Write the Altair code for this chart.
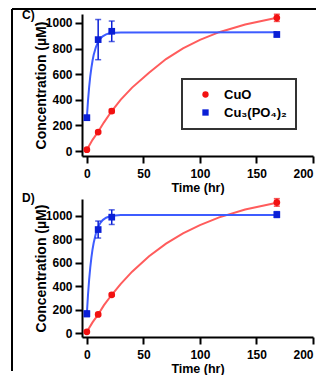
import altair as alt
import pandas as pd

series_names = ["CuO", "Cu₃(PO₄)₂"]
t_pts = [0, 10, 22, 168]

# Panel C measured points
c_cuo = [10, 148, 312, 1040]
c_cuo_err = [8, 10, 14, 28]
c_cup = [260, 870, 935, 910]
c_cup_err = [18, 157, 80, 18]

# Panel D measured points
d_cuo = [14, 161, 328, 1111]
d_cuo_err = [8, 10, 12, 32]
d_cup = [167, 881, 986, 1008]
d_cup_err = [25, 72, 62, 25]

# fitted curves
fit_t_red = [0, 5, 10, 15, 22, 30, 40, 55, 70, 85, 100, 117, 140, 168]
c_cuo_fit = [10, 87, 150, 222, 312, 401, 495, 612, 718, 802, 868, 928, 988, 1040]
d_cuo_fit = [14, 94, 161, 238, 328, 421, 524, 654, 762, 849, 919, 984, 1051, 1109]

fit_t_blue = [0, 1, 2, 3, 4, 5, 6, 8, 10, 12, 14, 17, 20, 25, 30, 168]
c_cup_fit = [260, 392, 497, 582, 650, 705, 749, 812, 853, 879, 896, 911, 919, 924, 926, 927]
d_cup_fit = [167, 326, 454, 558, 643, 712, 767, 849, 903, 938, 961, 981, 992, 1001, 1004, 1005]

x_ticks = [0, 50, 100, 150, 200]
y_ticks = [0, 200, 400, 600, 800, 1000]

RED = "#f21111"
RED_LINE = "#ff5c5c"
BLUE = "#0a1fd6"
BLUE_LINE = "#3d5cff"
FONT = "Liberation Sans"


def panel(label, cuo, cuo_err, cup, cup_err, cuo_fit, cup_fit, ydom, height, legend, frame):
    pts = pd.DataFrame({
        "time": t_pts + t_pts,
        "conc": cuo + cup,
        "lo": [v - e for v, e in zip(cuo, cuo_err)] + [v - e for v, e in zip(cup, cup_err)],
        "hi": [v + e for v, e in zip(cuo, cuo_err)] + [v + e for v, e in zip(cup, cup_err)],
        "series": [series_names[0]] * 4 + [series_names[1]] * 4,
    })
    red_fit = pd.DataFrame({"time": fit_t_red, "conc": cuo_fit})
    blue_fit = pd.DataFrame({"time": fit_t_blue, "conc": cup_fit})

    xs = alt.Scale(domain=[-4.3, 200], nice=False, zero=False)
    ys = alt.Scale(domain=ydom, nice=False, zero=False)
    xax = alt.Axis(values=x_ticks, title="Time (hr)", format="d", labelOverlap=False)
    yax = alt.Axis(values=y_ticks, title="Concentration (µM)", format="d",
                   titleFontSize=14, titlePadding=-3, labelOverlap=False)

    def X(f):
        return alt.X(f, type="quantitative", scale=xs, axis=xax)

    def Y(f):
        return alt.Y(f, type="quantitative", scale=ys, axis=yax)

    base = alt.Chart(pts)
    line_r = alt.Chart(red_fit).mark_line(color=RED_LINE, strokeWidth=2).encode(x=X("time"), y=Y("conc"))
    line_b = alt.Chart(blue_fit).mark_line(color=BLUE_LINE, strokeWidth=2).encode(x=X("time"), y=Y("conc"))

    layers = [line_r, line_b]
    for name, col in zip(series_names, [RED, BLUE]):
        sub = base.transform_filter(alt.datum.series == name)
        layers.append(sub.mark_rule(color=col, strokeWidth=1.5).encode(
            x=X("time"), y=Y("lo"), y2="hi:Q"))
        layers.append(sub.mark_tick(color=col, orient="horizontal", size=6, thickness=1.5).encode(
            x=X("time"), y=Y("lo")))
        layers.append(sub.mark_tick(color=col, orient="horizontal", size=6, thickness=1.5).encode(
            x=X("time"), y=Y("hi")))

    if legend:
        leg = alt.Legend(title=None, orient="none", legendX=100, legendY=65,
                         strokeColor="#333333", padding=9, symbolOffset=8,
                         labelOffset=12, labelFontSize=13, labelFontWeight="bold",
                         labelFont=FONT, labelColor="black", rowPadding=4,
                         symbolSize=40, symbolStrokeWidth=0)
    else:
        leg = None
    pts_layer = base.mark_point(filled=True, size=45, opacity=1).encode(
        x=X("time"), y=Y("conc"),
        color=alt.Color("series:N", scale=alt.Scale(domain=series_names, range=[RED, BLUE]), legend=leg),
        shape=alt.Shape("series:N", scale=alt.Scale(domain=series_names, range=["circle", "square"]), legend=leg),
    )
    layers.append(pts_layer)

    lab = alt.Chart(pd.DataFrame({"k": [0]})).mark_text(
        align="left", baseline="middle", fontWeight="bold", fontSize=12, font=FONT, color="black"
    ).encode(x=alt.value(-60), y=alt.value(1 if frame else -1), text=alt.value(label))
    layers.append(lab)

    if frame:
        one = pd.DataFrame({"k": [0]})
        layers.append(alt.Chart(one).mark_rule(color="black", strokeWidth=2).encode(
            x=alt.value(-70), y=alt.value(-5), y2=alt.value(357)))
        layers.append(alt.Chart(one).mark_rule(color="black", strokeWidth=2).encode(
            x=alt.value(-70), x2=alt.value(241), y=alt.value(-5)))

    return alt.layer(*layers).properties(width=231, height=height)


top = panel("C)", c_cuo, c_cuo_err, c_cup, c_cup_err, c_cuo_fit, c_cup_fit, [-39, 1070], 142, True, True)
bot = panel("D)", d_cuo, d_cuo_err, d_cup, d_cup_err, d_cuo_fit, d_cup_fit, [-30, 1140], 138, False, False)

chart = alt.vconcat(top, bot, spacing=43, bounds="flush").resolve_scale(
    color="independent", shape="independent"
).properties(
    padding={"left": 3, "top": 0, "right": -8, "bottom": 0}
).configure_view(stroke=None).configure_axis(
    grid=False, domainColor="black", domainWidth=2, tickColor="black", tickWidth=2,
    tickSize=7, labelFont=FONT, labelFontWeight="bold", labelFontSize=12, labelColor="black",
    labelPadding=3, titleFont=FONT, titleFontWeight="bold", titleFontSize=12.5, titleColor="black",
    labelOverlap=False,
).configure_axisX(labelPadding=5, titlePadding=2).configure_legend(strokeWidth=2)

chart.save("out.html", embed_options={"renderer": "svg", "actions": False})
